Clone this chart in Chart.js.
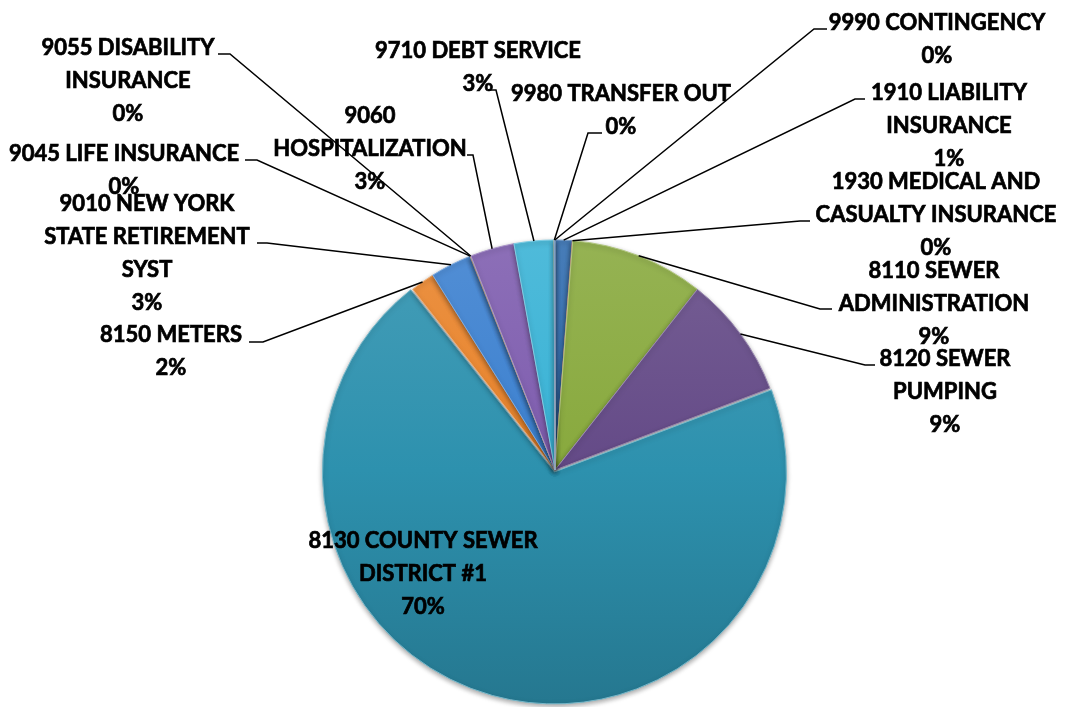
<!DOCTYPE html>
<html>
<head>
<meta charset="utf-8">
<script src="https://cdn.jsdelivr.net/npm/chart.js@4.4.1/dist/chart.umd.min.js"></script>
<style>
  html, body { margin: 0; padding: 0; background: #fff; }
  #wrap { width: 1076px; height: 707px; }
</style>
</head>
<body>
<div id="wrap"><canvas id="myChart" width="1076" height="707"></canvas></div>
<script>
// sewer fund appropriations by account, share of total (%)
var categories = [
  ["1910 LIABILITY", "INSURANCE"],
  ["1930 MEDICAL AND", "CASUALTY INSURANCE"],
  ["8110 SEWER", "ADMINISTRATION"],
  ["8120 SEWER", "PUMPING"],
  ["8130 COUNTY SEWER", "DISTRICT #1"],
  ["8150 METERS"],
  ["9010 NEW YORK", "STATE RETIREMENT", "SYST"],
  ["9045 LIFE INSURANCE"],
  ["9055 DISABILITY", "INSURANCE"],
  ["9060", "HOSPITALIZATION"],
  ["9710 DEBT SERVICE"],
  ["9980 TRANSFER OUT"],
  ["9990 CONTINGENCY"]
];
var shares = [1.2, 0.03, 9.4, 8.6, 70.2, 1.7, 2.9, 0.03, 0.03, 3.1, 2.8, 0.03, 0.03];

var colors = ["#2f6bae", "#c0504d", "#88a93d", "#644a87", "#2d91ae", "#e8832a", "#3b80cf",
              "#d0605c", "#a3c363", "#7e5cae", "#38b2d5", "#f59d52", "#3d6fa8"];

// where each label sits: x / y of the first text line, leader start and elbow length
var labelSpots = [
  {x: 949, y: 92,  sx: 865, sy: 99,  dx: -10},
  {x: 936, y: 181, sx: 810, sy: 221, dx: -10},
  {x: 934, y: 270, sx: 832, sy: 309, dx: -12},
  {x: 945, y: 358, sx: 875, sy: 365, dx: -10},
  {x: 423, y: 540},
  {x: 171, y: 334, sx: 249, sy: 342, dx: 14},
  {x: 147, y: 203, sx: 257, sy: 243, dx: 10},
  {x: 124, y: 153, sx: 245, sy: 160, dx: 12},
  {x: 128, y: 47,  sx: 218, sy: 54,  dx: 12},
  {x: 370, y: 115, sx: 467, sy: 155, dx: 6},
  {x: 478, y: 50,  sx: 488, sy: 90,  dx: 8},
  {x: 621, y: 93,  sx: 602, sy: 133, dx: -14},
  {x: 937, y: 22,  sx: 827, sy: 29,  dx: -13}
];

function shade(hex, amt) {
  var n = parseInt(hex.slice(1), 16);
  var r = n >> 16, g = (n >> 8) & 255, b = n & 255;
  var t = amt < 0 ? 0 : 255, p = Math.abs(amt);
  r = Math.round(r + (t - r) * p);
  g = Math.round(g + (t - g) * p);
  b = Math.round(b + (t - b) * p);
  return "rgb(" + r + "," + g + "," + b + ")";
}

function sliceFill(context) {
  var chart = context.chart;
  var base = colors[context.dataIndex];
  var area = chart.chartArea;
  if (!area) return base;
  var g = chart.ctx.createLinearGradient(0, 230, 0, 707);
  g.addColorStop(0, shade(base, 0.12));
  g.addColorStop(0.5, base);
  g.addColorStop(1, shade(base, -0.18));
  return g;
}

var pieShadow = {
  id: "pieShadow",
  beforeDatasetDraw: function(chart) {
    var ctx = chart.ctx;
    ctx.save();
    ctx.shadowColor = "rgba(0,0,0,0.35)";
    ctx.shadowBlur = 5;
    ctx.shadowOffsetY = 2;
  },
  afterDatasetDraw: function(chart) {
    chart.ctx.restore();
  }
};

var leaderLabels = {
  id: "leaderLabels",
  afterDatasetsDraw: function(chart) {
    var ctx = chart.ctx;
    var meta = chart.getDatasetMeta(0);
    var total = shares.reduce(function(a, b) { return a + b; }, 0);
    ctx.save();
    ctx.font = "bold 22px Lato";
    ctx.fillStyle = "#000";
    ctx.strokeStyle = "#000";
    ctx.textAlign = "center";
    ctx.textBaseline = "alphabetic";
    meta.data.forEach(function(arc, i) {
      var spot = labelSpots[i];
      var p = arc.getProps(["x", "y", "startAngle", "endAngle", "outerRadius"], true);
      var mid = (p.startAngle + p.endAngle) / 2;
      if (spot.sx !== undefined) {
        var ex = p.x + Math.cos(mid) * p.outerRadius;
        var ey = p.y + Math.sin(mid) * p.outerRadius;
        ctx.lineWidth = 1.5;
        ctx.beginPath();
        ctx.moveTo(spot.sx, spot.sy);
        ctx.lineTo(spot.sx + spot.dx, spot.sy);
        ctx.lineTo(ex, ey);
        ctx.stroke();
      }
      var lines = categories[i].concat([Math.round(shares[i] / total * 100) + "%"]);
      ctx.lineWidth = 0.7;
      lines.forEach(function(t, k) {
        ctx.fillText(t, spot.x, spot.y + 8 + k * 33);
        ctx.strokeText(t, spot.x, spot.y + 8 + k * 33);
      });
    });
    ctx.restore();
  }
};

function printChart() {
  var ctx = document.getElementById("myChart").getContext("2d");
  var offsets = shares.map(function(v, i) { return i === 4 ? 8 : 0; });
  var myChart = new Chart(ctx, {
    type: "pie",
    data: {
      labels: categories,
      datasets: [{
        data: shares,
        backgroundColor: sliceFill,
        borderColor: colors.map(function(c) { return shade(c, 0.35); }),
        borderWidth: 1,
        offset: offsets
      }]
    },
    options: {
      responsive: false,
      animation: false,
      radius: 230,
      layout: { padding: { left: 34, top: 233, right: 0, bottom: 0 } },
      plugins: {
        legend: { display: false },
        tooltip: { enabled: false }
      }
    },
    plugins: [pieShadow, leaderLabels]
  });
}

printChart();
</script>
</body>
</html>
